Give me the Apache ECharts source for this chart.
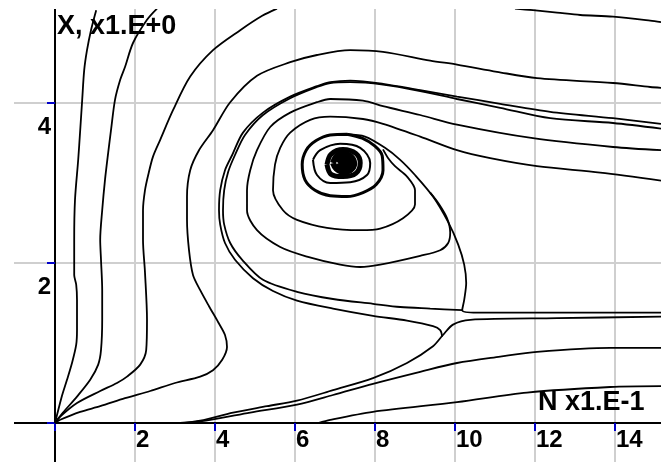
<!DOCTYPE html>
<html><head><meta charset="utf-8">
<script src="https://cdn.jsdelivr.net/npm/echarts@6.0.0/dist/echarts.min.js"></script>
<style>html,body{margin:0;padding:0;background:#fff}#c{width:661px;height:462px}</style>
</head><body><div id="c"></div>
<script>
// ---- text ----
const xTitle = 'N x1.E-1';
const yTitle = 'X, x1.E+0';
const xTickLabels = [2, 4, 6, 8, 10, 12, 14];
const yTickLabels = [2, 4];

// ---- trajectories (x = N, y = X) ----
const curve1 = [[0,0],[0.08,0.16],[0.18,0.35],[0.30,0.54],[0.43,0.76],[0.53,0.98],[0.55,1.16],[0.55,1.54],[0.53,1.73],[0.48,1.85],[0.48,2.29],[0.50,2.79],[0.58,3.29],[0.63,3.66],[0.68,4.04],[0.73,4.41],[0.80,4.66],[0.90,4.91],[1.03,5.16]];
const curve2 = [[0,0],[0.20,0.13],[0.55,0.33],[0.88,0.54],[1.08,0.73],[1.15,0.91],[1.18,1.29],[1.18,1.66],[1.15,2.04],[1.13,2.29],[1.18,2.66],[1.25,3.04],[1.33,3.38],[1.40,3.66],[1.50,4.04],[1.63,4.29],[1.75,4.45],[1.95,4.75],[2.30,5.04],[2.55,5.18]];
const curve3 = [[0,0],[0.13,0.08],[0.55,0.25],[1.13,0.40],[1.55,0.50],[1.80,0.58],[2.13,0.73],[2.28,0.91],[2.30,1.29],[2.25,1.88],[2.20,2.29],[2.20,2.66],[2.25,2.91],[2.33,3.10],[2.45,3.33],[2.63,3.54],[2.95,3.91],[3.38,4.33],[3.95,4.66],[4.63,4.91],[5.18,5.09],[5.55,5.18]];
const curve4 = [[0,0],[0.13,0.04],[0.63,0.14],[1.13,0.21],[1.75,0.31],[2.38,0.40],[3.00,0.50],[3.63,0.58],[3.95,0.66],[4.18,0.79],[4.30,0.95],[4.25,1.10],[4.08,1.26],[3.85,1.46],[3.63,1.66],[3.45,1.85],[3.35,2.16],[3.30,2.54],[3.30,2.83],[3.38,3.16],[3.60,3.41],[3.95,3.66],[4.38,4.01],[5.05,4.34],[5.88,4.51],[6.55,4.60],[7.38,4.66],[8.20,4.64],[9.38,4.53],[10.05,4.48],[11.05,4.39],[12.05,4.31],[13.95,4.25],[14.88,4.20],[15.15,4.19]];
const topCurve = [[11.50,5.18],[11.95,5.16],[12.55,5.13],[13.13,5.10],[13.95,5.08],[14.88,5.03],[15.15,5.01]];
const loopD1 = [[15.15,3.74],[13.95,3.81],[12.38,3.89],[11.13,3.99],[10.05,4.08],[9.13,4.16],[8.20,4.24],[7.38,4.28],[6.88,4.26],[6.55,4.21],[5.88,4.08],[5.20,3.88],[4.70,3.63],[4.43,3.35],[4.25,3.16],[4.13,2.91],[4.10,2.66],[4.13,2.48],[4.25,2.25],[4.50,2.04],[4.95,1.81],[5.45,1.65],[6.05,1.53],[6.95,1.43],[7.95,1.34],[8.80,1.28],[9.45,1.21],[9.63,1.16],[9.68,1.08]];
const loopD2 = [[15.15,3.68],[13.95,3.75],[12.38,3.81],[11.13,3.94],[10.05,4.05],[9.13,4.15],[8.20,4.23],[7.38,4.26],[6.88,4.25],[6.55,4.20],[5.88,4.06],[5.20,3.85],[4.75,3.60],[4.50,3.35],[4.33,3.14],[4.23,2.91],[4.20,2.66],[4.23,2.48],[4.38,2.25],[4.68,2.04],[5.20,1.79],[6.05,1.64],[6.95,1.55],[7.95,1.49],[8.63,1.45],[9.38,1.43],[10.18,1.41]];
const loopE = [[15.15,3.41],[13.95,3.45],[11.95,3.56],[10.05,3.73],[9.13,3.85],[8.20,3.96],[7.70,4.03],[6.88,4.05],[6.55,4.01],[5.88,3.88],[5.38,3.70],[5.05,3.41],[4.88,3.16],[4.80,2.91],[4.80,2.66],[5.05,2.41],[5.63,2.20],[6.30,2.08],[7.13,1.98],[7.63,1.95],[8.13,1.98],[9.13,2.09],[9.63,2.16],[9.83,2.25],[9.88,2.38],[9.80,2.56],[9.58,2.75],[9.38,2.88]];
const loopF = [[15.15,3.03],[13.63,3.13],[12.05,3.21],[10.88,3.31],[10.05,3.41],[9.13,3.58],[8.20,3.74],[7.70,3.80],[6.88,3.83],[6.38,3.79],[5.88,3.63],[5.63,3.44],[5.50,3.23],[5.45,2.91],[5.70,2.66],[6.05,2.54],[6.80,2.44],[7.63,2.41],[8.13,2.43],[8.70,2.56],[9.00,2.73],[9.00,2.91],[8.80,3.08],[8.50,3.21],[8.33,3.31],[8.20,3.42]];
const outflow = [[7.30,3.61],[7.75,3.58],[8.25,3.44],[8.63,3.29],[9.00,3.10],[9.45,2.83],[9.83,2.51],[10.08,2.23],[10.23,1.98],[10.28,1.75],[10.23,1.54],[10.18,1.41],[10.55,1.38],[12.63,1.38],[15.15,1.38]];
const spiralA = [[7.30,3.61],[6.88,3.60],[6.53,3.53],[6.28,3.41],[6.18,3.23],[6.25,3.04],[6.50,2.91],[6.88,2.84],[7.30,2.83],[7.70,2.88],[8.03,2.98],[8.20,3.16],[8.18,3.34],[8.00,3.46],[7.68,3.56],[7.30,3.61]];
const spiralB = [[6.45,3.29],[6.63,3.41],[7.13,3.49],[7.63,3.44],[7.88,3.25],[7.80,3.10],[7.38,3.01],[6.88,3.00],[6.55,3.10],[6.45,3.29]];
const spiralC = [[6.80,3.23],[6.90,3.36],[7.20,3.42],[7.52,3.37],[7.63,3.25],[7.52,3.12],[7.20,3.08],[6.90,3.11],[6.80,3.23]];
const spiralD = [[6.95,3.25],[7.05,3.34],[7.23,3.36],[7.40,3.33],[7.48,3.24],[7.38,3.16],[7.20,3.14],[7.03,3.18],[6.95,3.25]];
const spiralE = [[7.08,3.25],[7.20,3.30],[7.33,3.25],[7.20,3.20],[7.08,3.25]];
const bottomG = [[3.13,0.00],[3.63,0.03],[4.45,0.13],[5.30,0.21],[6.05,0.28],[6.95,0.41],[7.95,0.56],[8.80,0.75],[9.45,0.96],[9.70,1.10],[9.95,1.23],[10.38,1.29],[12.55,1.31],[15.15,1.33]];
const bottomH = [[3.25,0.00],[3.88,0.04],[4.88,0.13],[6.05,0.23],[6.95,0.35],[7.95,0.49],[9.13,0.64],[10.05,0.75],[11.13,0.83],[12.05,0.89],[13.88,0.94],[15.15,0.94]];
const bottomI = [[6.58,0.00],[6.88,0.04],[7.95,0.14],[10.05,0.26],[11.80,0.38],[13.88,0.45],[15.15,0.46]];

const thinCurves = [curve1, curve2, curve3, curve4, topCurve, loopD1, loopD2, loopE, loopF, outflow, bottomG, bottomH, bottomI];
const thickCurves = [[spiralB, 2], [spiralA, 3], [spiralC, 5], [spiralD, 6], [spiralE, 8]];

const series = [];
thinCurves.forEach(d => series.push({type:'line', xAxisIndex:0, yAxisIndex:0, data:d, showSymbol:false, symbol:'none', smooth:0.3, lineStyle:{color:'#000', width:1.8}, silent:true}));
thickCurves.forEach(([d,w]) => series.push({type:'line', xAxisIndex:0, yAxisIndex:0, data:d, showSymbol:false, symbol:'none', smooth:0.35, lineStyle:{color:'#000', width:w}, silent:true}));

const FONT = 'Liberation Sans';
const labelFont = {color:'#000', fontSize:24, fontWeight:'bold', fontFamily:FONT};
const chart = echarts.init(document.getElementById('c'), null, {renderer:'canvas'});
chart.setOption({
  animation:false,
  backgroundColor:'#fff',
  grid:[
    {left:-25, top:-57, width:720, height:640, containLabel:false, outerBoundsMode:'none'},
    {left:55, top:-57, width:640, height:480, containLabel:false, outerBoundsMode:'none'}
  ],
  xAxis:[
    {gridIndex:0, type:'value', min:-2, max:16, interval:2,
      axisLine:{onZero:true, lineStyle:{color:'#000', width:2}},
      axisTick:{show:true, length:8, lineStyle:{color:'#0000c8', width:2}},
      splitLine:{show:true, lineStyle:{color:'#cfcfcf', width:2}},
      axisLabel:{show:false}},
    {gridIndex:1, type:'value', min:0, max:16, interval:2,
      axisLine:{show:false}, axisTick:{show:false}, splitLine:{show:false},
      axisLabel:Object.assign({show:true, formatter:v => xTickLabels.indexOf(v) >= 0 ? String(v) : '', align:'left', padding:[0,0,0,1], margin:5}, labelFont)}
  ],
  yAxis:[
    {gridIndex:0, type:'value', min:-2, max:6, interval:2,
      axisLine:{onZero:true, lineStyle:{color:'#000', width:2}},
      axisTick:{show:true, length:8, lineStyle:{color:'#0000c8', width:2}},
      splitLine:{show:true, lineStyle:{color:'#cfcfcf', width:2}},
      axisLabel:{show:false}},
    {gridIndex:1, type:'value', min:0, max:6, interval:2,
      axisLine:{show:false}, axisTick:{show:false}, splitLine:{show:false},
      axisLabel:Object.assign({show:true, formatter:v => yTickLabels.indexOf(v) >= 0 ? String(v) : '', align:'right', verticalAlign:'top', padding:[12,0,0,0], margin:4}, labelFont)}
  ],
  graphic:[
    {type:'rect', z:100, shape:{x:0, y:0, width:14, height:462}, style:{fill:'#fff'}},
    {type:'rect', z:100, shape:{x:0, y:0, width:661, height:9}, style:{fill:'#fff'}},
    {type:'text', z:101, x:57, y:13, style:{text:yTitle, font:'bold 27px ' + FONT, fill:'#000'}},
    {type:'text', z:101, x:538, y:389, style:{text:xTitle, font:'bold 27px ' + FONT, fill:'#000'}}
  ],
  series:series
});
</script></body></html>
